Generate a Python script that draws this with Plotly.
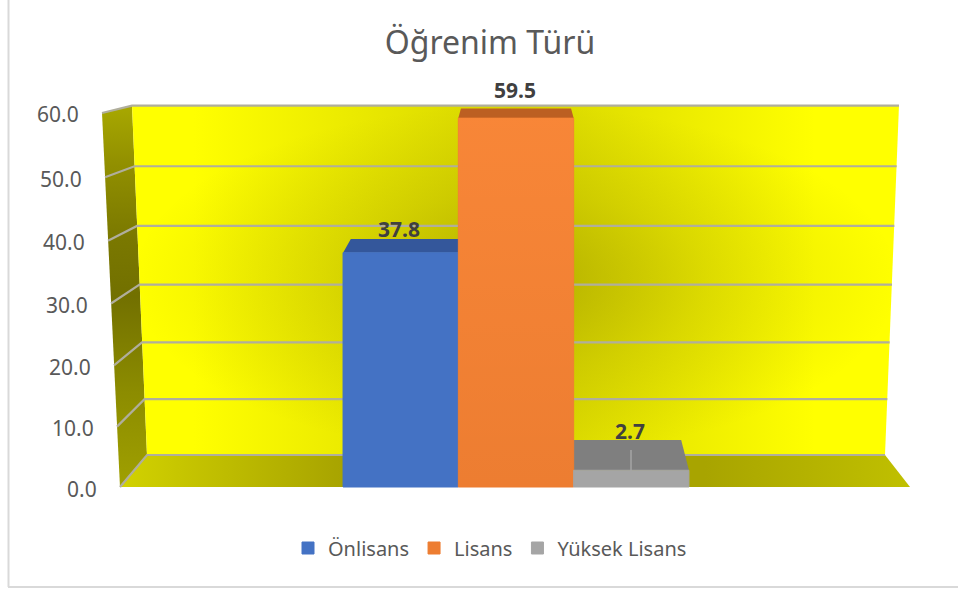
import plotly.graph_objects as go

SERIES = ["Önlisans", "Lisans", "Yüksek Lisans"]
VALUES = [37.8, 59.5, 2.7]
VALUE_LABELS = ["37.8", "59.5", "2.7"]
FRONT_COLORS = ["#4472C4", "#ED7D31", "#A5A5A5"]
TOP_COLORS = ["#34579B", "#BC5F22", "#7F7F7F"]
TICKS = [0, 10, 20, 30, 40, 50, 60]
TICK_LABELS = ["0.0", "10.0", "20.0", "30.0", "40.0", "50.0", "60.0"]
TITLE = "Öğrenim Türü"

W, H = 958, 592
X0_PX, X_UNIT = 400.7, 115.3
Y0_PX, Y_UNIT = 487.0, 6.2
FONT = "Noto Sans"
GRID = "#B0AE9C"


def ux(px):
    return (px - X0_PX) / X_UNIT


def uy(py):
    return (Y0_PX - py) / Y_UNIT


def front_py(v):
    return 487 - (6.0 * v + 0.0039 * v * v)


def back_py(v):
    return 455 - (5.53 * v + 0.0049 * v * v)


def front_px(v):
    return 120 - 0.3 * v


def back_left_px(v):
    return 147 - 0.25 * v


def back_right_px(v):
    return 885 + 0.233 * v


def depth_px(px):
    return 516 + (px - 516) * 0.955


def poly(points, **kw):
    return go.Scatter(
        x=[ux(p[0]) for p in points], y=[uy(p[1]) for p in points],
        mode="lines", fill="toself", line=dict(width=0), hoverinfo="skip",
        showlegend=False, **kw)


def seg(points, color=GRID, width=2.2):
    return go.Scatter(
        x=[ux(p[0]) for p in points], y=[uy(p[1]) for p in points],
        mode="lines", line=dict(color=color, width=width), hoverinfo="skip",
        showlegend=False)


fig = go.Figure()

# left wall
fig.add_trace(poly(
    [(front_px(60), front_py(60)), (back_left_px(60), back_py(60)),
     (back_left_px(0), back_py(0)), (front_px(0), front_py(0))],
    fillgradient=dict(type="vertical",
                      colorscale=[[0, "#A0A000"], [0.25, "#8C8C00"], [0.5, "#727000"],
                                  [0.65, "#7A7800"], [0.85, "#929000"], [1, "#A8A800"]])))
# back wall: broad horizontal falloff plus a soft dark centre
wall = [(back_left_px(60), back_py(60)), (back_right_px(60), back_py(60)),
        (back_right_px(0), back_py(0)), (back_left_px(0), back_py(0))]
fig.add_trace(poly(wall, fillgradient=dict(
    type="horizontal",
    colorscale=[[0, "#FFFF00"], [0.08, "#FFFF00"], [0.5, "#D6D400"], [0.89, "#FFFF00"], [1, "#FFFF00"]])))
fig.add_trace(poly(wall, fillgradient=dict(
    type="radial",
    colorscale=[[0, "rgba(110,100,0,0.35)"], [0.5, "rgba(110,100,0,0.15)"], [1, "rgba(110,100,0,0)"]])))
# floor
fig.add_trace(poly(
    [(front_px(0), front_py(0)), (back_left_px(0), back_py(0)),
     (back_right_px(0), back_py(0)), (910, 487)],
    fillgradient=dict(type="horizontal",
                      colorscale=[[0, "#D2D200"], [0.28, "#A8A400"], [0.74, "#A8A400"], [1, "#C0C000"]])))

# gridlines
for t in TICKS:
    fig.add_trace(seg([(front_px(t), front_py(t)), (back_left_px(t), back_py(t)),
                       (back_right_px(t), back_py(t))]))

# top faces of the bars (on the lower subplot so the fronts cover them)
for i, v in enumerate(VALUES):
    cx = X0_PX + i * X_UNIT
    l, r = cx - X_UNIT / 2, cx + X_UNIT / 2
    yb = (Y0_PX - back_py(v)) / Y_UNIT
    fig.add_trace(go.Scatter(
        x=[ux(l), ux(r), ux(depth_px(r)), ux(depth_px(l))],
        y=[v, v, yb, yb],
        mode="lines", fill="toself", fillcolor=TOP_COLORS[i], line=dict(width=0),
        hoverinfo="skip", showlegend=False))

# drop line visible on the grey bar's top face
fig.add_trace(seg([(631, 450), (631, 471)], color="#A5A5A5", width=1.5))

# bar fronts
for i, (name, v) in enumerate(zip(SERIES, VALUES)):
    fig.add_trace(go.Bar(
        x=[i], y=[v], width=1, name=name,
        marker=dict(color=FRONT_COLORS[i], line=dict(width=1, color=FRONT_COLORS[i])),
        xaxis="x2", yaxis="y2", hovertemplate=name + ": %{y}<extra></extra>"))

# soft highlight towards the top of the orange bar
fig.add_trace(go.Scatter(
    x=[0.5, 1.5, 1.5, 0.5], y=[0, 0, VALUES[1], VALUES[1]], mode="lines", fill="toself",
    line=dict(width=0), hoverinfo="skip", showlegend=False, xaxis="x2", yaxis="y2",
    fillgradient=dict(type="vertical",
                      colorscale=[[0, "rgba(255,140,60,0)"], [1, "rgba(255,140,60,0.6)"]])))

ann = []
SHIFTS = [10, 19, 9]
for i, (lab, v) in enumerate(zip(VALUE_LABELS, VALUES)):
    ann.append(dict(x=i, y=uy(back_py(v)), xref="x2", yref="y2", text="<b>%s</b>" % lab,
                    showarrow=False, xshift=-1.5, yshift=SHIFTS[i], xanchor="center", yanchor="middle",
                    font=dict(family=FONT, size=21, color="#404040")))
for t, lab in zip(TICKS, TICK_LABELS):
    ann.append(dict(x=ux(front_px(t) - 21.5), y=uy(front_py(t)), xref="x", yref="y", text=lab,
                    showarrow=False, xanchor="right", yanchor="middle", yshift=-1.5,
                    font=dict(family=FONT, size=21, color="#595959")))

fig.update_layout(
    width=W, height=H, margin=dict(l=0, r=0, t=0, b=0, autoexpand=False),
    paper_bgcolor="white", plot_bgcolor="white",
    title=dict(text=TITLE, x=490 / W, xanchor="center", y=1 - 43 / H, yanchor="middle",
               font=dict(family=FONT, size=32, color="#595959")),
    xaxis=dict(range=[ux(0), ux(W)], visible=False, fixedrange=True),
    yaxis=dict(range=[uy(H), uy(0)], visible=False, fixedrange=True),
    xaxis2=dict(range=[ux(0), ux(W)], visible=False, overlaying="x", fixedrange=True),
    yaxis2=dict(range=[uy(H), uy(0)], visible=False, overlaying="y", fixedrange=True),
    legend=dict(orientation="h", x=490 / W, xanchor="center", y=1 - 548 / H, yanchor="middle",
                font=dict(family=FONT, size=20, color="#595959"), bgcolor="rgba(0,0,0,0)"),
    annotations=ann,
    shapes=[
        dict(type="line", xref="paper", yref="paper", x0=8.5 / W, x1=8.5 / W, y0=1,
             y1=1 - 587 / H, line=dict(color="#D9D9D9", width=2)),
        dict(type="line", xref="paper", yref="paper", x0=8 / W, x1=1, y0=1 - 587 / H,
             y1=1 - 587 / H, line=dict(color="#D9D9D9", width=2)),
    ],
    barmode="overlay", showlegend=True,
)

fig.write_html("out.html", config={"displayModeBar": False},
               post_script="document.body.style.margin='0';document.documentElement.style.overflow='hidden';")
